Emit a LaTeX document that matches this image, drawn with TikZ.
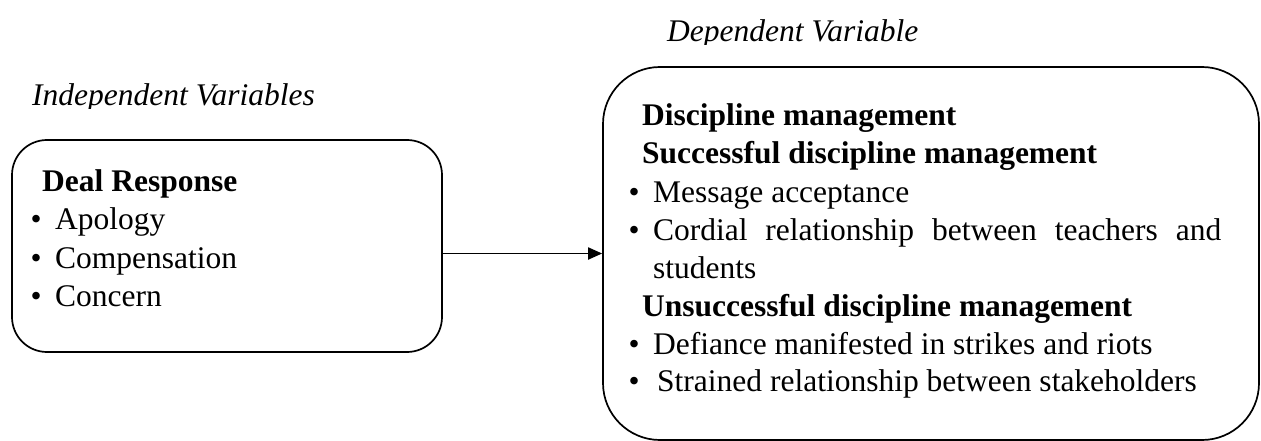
\documentclass[tikz,border=0pt]{standalone}
\usepackage{fontspec}
\setmainfont{Liberation Serif}
\usetikzlibrary{arrows.meta}

\newcommand{\bul}{\makebox[24.5pt][l]{\textbullet}}

\tikzset{
  varbox/.style={draw, line width=1.7pt, rounded corners=#1, inner sep=0pt},
  textline/.style={anchor=base west, inner sep=0pt, font=\fontsize{31.5}{38}\selectfont},
  headline/.style={textline, font=\fontsize{31.5}{38}\selectfont\bfseries},
  varname/.style={textline, font=\fontsize{31.5}{38}\selectfont\itshape},
  link/.style={line width=1.9pt, -{Triangle[length=14pt,width=12pt]}}
}

\begin{document}
\begin{tikzpicture}[x=1pt,y=-1pt]
\useasboundingbox (0,0) rectangle (1261,441);
% variable names (cut just under the baseline)
\begin{scope}
\clip (0,0) rectangle (1261,45);
\node[varname] (dep) at (667,42) {Dependent Variable};
\end{scope}
\begin{scope}
\clip (0,60) rectangle (600,109);
\node[varname] (indep) at (32,106) {Independent Variables};
\end{scope}
% boxes
\node[varbox=35pt, minimum width=430pt, minimum height=212pt] (lbox) at (227,246) {};
\node[varbox=57pt, minimum width=656pt, minimum height=373pt] (rbox) at (931,253.5) {};
% independent side
\node[headline] (deal) at (42,191) {Deal Response};
\node[textline] (apol) at (30.5,229.5) {\bul Apology};
\node[textline] (comp) at (30.5,268) {\bul Compensation};
\node[textline] (conc) at (30.5,306.5) {\bul Concern};
% dependent side
\node[headline] (disc) at (642,126) {Discipline management};
\node[headline] (succ) at (642,164) {Successful discipline management};
\node[textline] (mess) at (628.5,202) {\bul Message acceptance};
\node[textline] (cord) at (628.5,240) {\bul\makebox[568pt][s]{Cordial relationship between teachers and}};
\node[textline] (stud) at (653,278) {students};
\node[headline] (unsu) at (642,316) {Unsuccessful discipline management};
\node[textline] (defi) at (628.5,354) {\bul Defiance manifested in strikes and riots};
\node[textline] (stra) at (628.5,391) {\bul\hspace{4pt}Strained relationship between stakeholders};
% link
\draw[link] (lbox.east |- rbox.west) -- (rbox.west);
\end{tikzpicture}
\end{document}
